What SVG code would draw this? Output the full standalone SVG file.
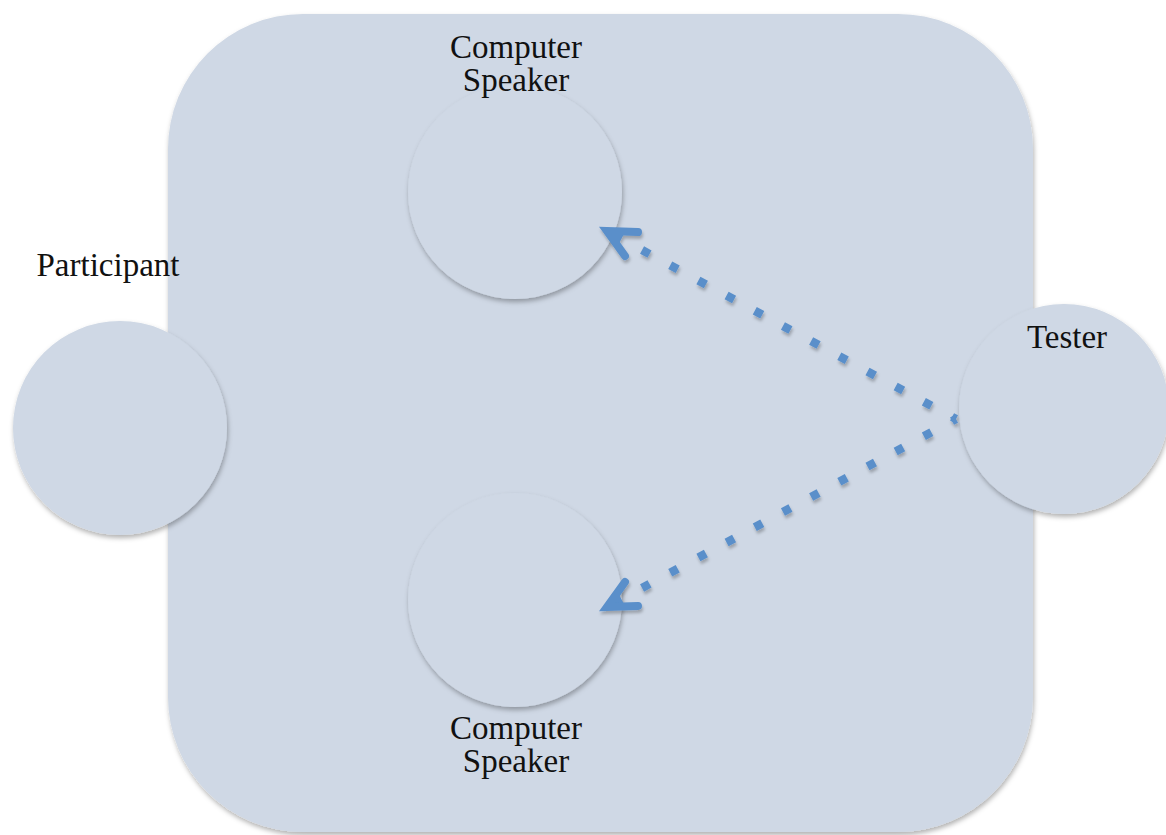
<svg xmlns="http://www.w3.org/2000/svg" width="1166" height="835" viewBox="0 0 1166 835">
  <style>
    .shape { fill: #cfd8e5; filter: url(#shadow); }
    .label { font-family: "Liberation Serif", "Times New Roman", serif; font-size: 33px; fill: #111; text-anchor: middle; }
    .flow { fill: none; stroke: #5a8fca; stroke-width: 8.5; stroke-dasharray: 8.5 23.5; }
    .head { fill: none; stroke: #5a8fca; stroke-width: 8; stroke-linecap: round; stroke-linejoin: miter; stroke-miterlimit: 10; }
  </style>
  <defs>
    <filter id="shadow" x="-10%" y="-10%" width="120%" height="120%">
      <feDropShadow dx="1" dy="3" stdDeviation="2.5" flood-color="#000" flood-opacity="0.3"/>
    </filter>
    <filter id="dotShadow" x="-10%" y="-10%" width="120%" height="130%">
      <feDropShadow dx="1" dy="3" stdDeviation="1.5" flood-color="#000" flood-opacity="0.25"/>
    </filter>
  </defs>
  <rect width="1166" height="835" fill="#ffffff"/>

  <!-- room -->
  <g id="room">
    <rect class="shape" x="168" y="14" width="865" height="818" rx="135" ry="135"/>
  </g>

  <!-- people and speakers -->
  <g id="speaker-top">
    <circle class="shape" cx="515" cy="192" r="107"/>
    <text class="label" x="516" y="58">Computer</text>
    <text class="label" x="516" y="91">Speaker</text>
  </g>
  <g id="speaker-bottom">
    <circle class="shape" cx="515" cy="600" r="107"/>
    <text class="label" x="516" y="739">Computer</text>
    <text class="label" x="516" y="772">Speaker</text>
  </g>
  <g id="participant">
    <circle class="shape" cx="120" cy="428" r="107"/>
    <text class="label" x="108" y="276">Participant</text>
  </g>
  <g id="tester">
    <circle class="shape" cx="1064" cy="409" r="105"/>
    <text class="label" x="1067" y="348">Tester</text>
  </g>

  <!-- connectors -->
  <g id="connectors" filter="url(#dotShadow)">
    <path class="flow" stroke-dashoffset="4" d="M956 419 L614 235"/>
    <path class="head" d="M638 232 L607 231 L625 256"/>
    <path class="flow" stroke-dashoffset="4" d="M956 419 L614 603"/>
    <path class="head" d="M625 582 L607 607 L638 606"/>
  </g>
</svg>
